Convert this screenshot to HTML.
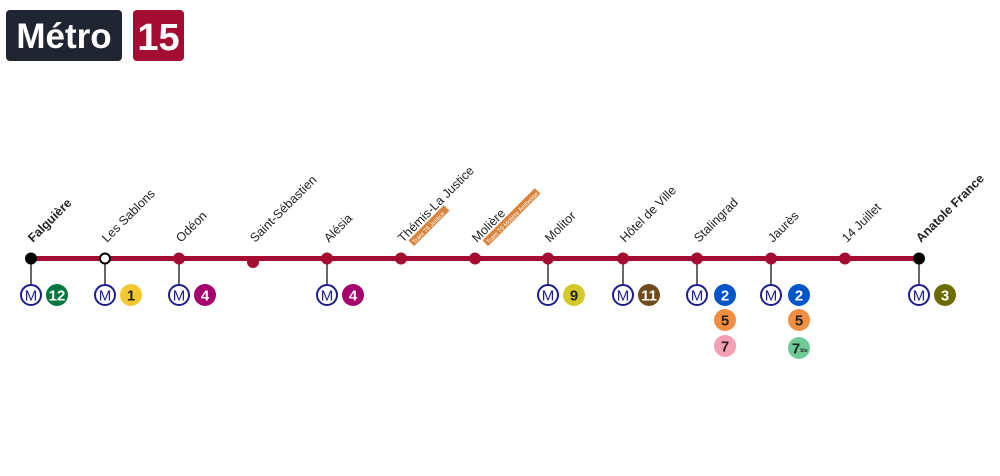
<!DOCTYPE html>
<html><head><meta charset="utf-8"><style>
html,body{margin:0;padding:0;background:#fff;}
svg{display:block;font-family:"Liberation Sans",sans-serif;}
</style></head><body>
<svg width="1000" height="476" viewBox="0 0 1000 476" xmlns="http://www.w3.org/2000/svg">
<rect x="6" y="10" width="116" height="51" rx="4" fill="#1f2631"/>
<text x="64" y="48" fill="#fff" font-size="35" font-weight="bold" text-anchor="middle">Métro</text>
<rect x="133" y="10" width="51" height="51" rx="4" fill="#a50c32"/>
<text x="158.5" y="50" fill="#fff" font-size="38" font-weight="bold" text-anchor="middle">15</text>

<g stroke="#333" stroke-width="1.5">
<line x1="31" y1="258" x2="31" y2="286"/><line x1="105" y1="258" x2="105" y2="286"/><line x1="179" y1="258" x2="179" y2="286"/>
<line x1="327" y1="258" x2="327" y2="286"/><line x1="548" y1="258" x2="548" y2="286"/><line x1="623" y1="258" x2="623" y2="286"/>
<line x1="697" y1="258" x2="697" y2="286"/><line x1="771" y1="258" x2="771" y2="286"/><line x1="919" y1="258" x2="919" y2="286"/>
</g>
<line x1="31" y1="258.5" x2="919" y2="258.5" stroke="#a50c32" stroke-width="5"/>
<g fill="#a50c32">
<circle cx="179" cy="258.5" r="6"/><circle cx="253" cy="262" r="6"/><circle cx="327" cy="258.5" r="6"/><circle cx="401" cy="258.5" r="6"/>
<circle cx="475" cy="258.5" r="6"/><circle cx="548" cy="258.5" r="6"/><circle cx="623" cy="258.5" r="6"/><circle cx="697" cy="258.5" r="6"/>
<circle cx="771" cy="258.5" r="6"/><circle cx="845" cy="258.5" r="6"/>
</g>
<circle cx="31" cy="258.5" r="6" fill="#000"/>
<circle cx="105" cy="258.5" r="5" fill="#fff" stroke="#000" stroke-width="2"/>
<circle cx="919" cy="258.5" r="6" fill="#000"/>

<g font-size="12.5" fill="#222">
<text transform="translate(33,243) rotate(-45)" font-weight="bold">Falguière</text>
<text transform="translate(107,243) rotate(-45)">Les Sablons</text>
<text transform="translate(181,243) rotate(-45)">Odéon</text>
<text transform="translate(255,243) rotate(-45)">Saint-Sébastien</text>
<text transform="translate(329,243) rotate(-45)">Alésia</text>
<text transform="translate(403,243) rotate(-45)">Thémis-La Justice</text>
<text transform="translate(477,243) rotate(-45)">Molière</text>
<text transform="translate(550,243) rotate(-45)">Molitor</text>
<text transform="translate(625,243) rotate(-45)">Hôtel de Ville</text>
<text transform="translate(699,243) rotate(-45)">Stalingrad</text>
<text transform="translate(773,243) rotate(-45)">Jaurès</text>
<text transform="translate(847,243) rotate(-45)">14 Juillet</text>
<text transform="translate(921,243) rotate(-45)" font-weight="bold">Anatole France</text>
</g>
<g transform="translate(412,244) rotate(-45)"><rect x="0" y="-5" width="50" height="8" fill="#d9843c"/><text x="2" y="2" font-size="6" fill="#fff">Tram T6 Justice</text></g>
<g transform="translate(486,244) rotate(-45)"><rect x="0" y="-5" width="74" height="8" fill="#d9843c"/><text x="2" y="2" font-size="6" fill="#fff">Tram T9 Molière Ambroise</text></g>

<g font-weight="bold" text-anchor="middle">
<g fill="#fff" stroke="#1d1d8f" stroke-width="2">
<circle cx="31" cy="295" r="10"/><circle cx="105" cy="295" r="10"/><circle cx="179" cy="295" r="10"/><circle cx="327" cy="295" r="10"/>
<circle cx="548" cy="295" r="10"/><circle cx="623" cy="295" r="10"/><circle cx="697" cy="295" r="10"/><circle cx="771" cy="295" r="10"/><circle cx="919" cy="295" r="10"/>
</g>
<g fill="#1d1d8f" font-size="15" font-weight="normal">
<text x="31" y="300.5">M</text><text x="105" y="300.5">M</text><text x="179" y="300.5">M</text><text x="327" y="300.5">M</text>
<text x="548" y="300.5">M</text><text x="623" y="300.5">M</text><text x="697" y="300.5">M</text><text x="771" y="300.5">M</text><text x="919" y="300.5">M</text>
</g>
<circle cx="57" cy="295" r="11" fill="#00773f"/><text x="57" y="300.5" font-size="15" fill="#fff">12</text>
<circle cx="131" cy="295" r="11" fill="#f2c931"/><text x="131" y="300.5" font-size="15" fill="#222">1</text>
<circle cx="205" cy="295" r="11" fill="#a5006e"/><text x="205" y="300.5" font-size="15" fill="#fff">4</text>
<circle cx="353" cy="295" r="11" fill="#a5006e"/><text x="353" y="300.5" font-size="15" fill="#fff">4</text>
<circle cx="574" cy="295" r="11" fill="#d5c82a"/><text x="574" y="300.5" font-size="15" fill="#222">9</text>
<circle cx="649" cy="295" r="11" fill="#704b1c"/><text x="649" y="300.5" font-size="15" fill="#fff">11</text>
<circle cx="725" cy="295" r="11" fill="#0055c8"/><text x="725" y="300.5" font-size="15" fill="#fff">2</text>
<circle cx="725" cy="320" r="11" fill="#f28e42"/><text x="725" y="325.5" font-size="15" fill="#222">5</text>
<circle cx="725" cy="346" r="11" fill="#f49fb3"/><text x="725" y="351.5" font-size="15" fill="#222">7</text>
<circle cx="799" cy="295" r="11" fill="#0055c8"/><text x="799" y="300.5" font-size="15" fill="#fff">2</text>
<circle cx="799" cy="320" r="11" fill="#f28e42"/><text x="799" y="325.5" font-size="15" fill="#222">5</text>
<circle cx="799" cy="348" r="11" fill="#6eca97"/><text x="796" y="353.5" font-size="15" fill="#222">7</text><text x="804" y="352" font-size="5" fill="#222">bis</text>
<circle cx="945" cy="295" r="11" fill="#6b6b00"/><text x="945" y="300.5" font-size="15" fill="#fff">3</text>
</g>
</svg>
</body></html>
